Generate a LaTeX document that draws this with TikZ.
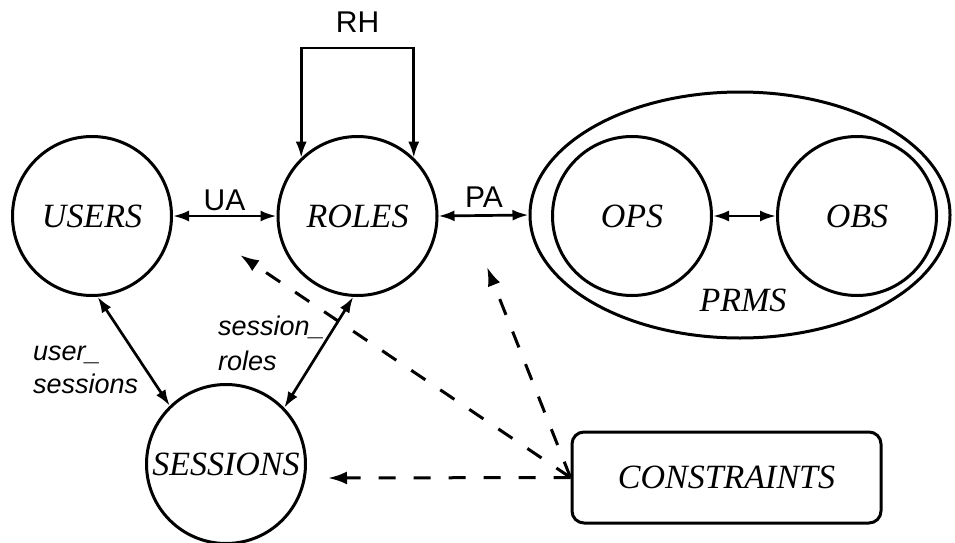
\documentclass[tikz,border=0pt]{standalone}
\usepackage{fontspec}
\setmainfont{Liberation Serif}
\setsansfont{Liberation Sans}
\usetikzlibrary{shapes.geometric,arrows.meta}

\tikzset{
  entity/.style={circle, draw, line width=3pt, inner sep=0pt, minimum size=159pt,
                 font=\fontsize{34}{40}\selectfont\itshape},
  setoval/.style={ellipse, draw, line width=3pt, inner sep=0pt,
                  minimum width=420pt, minimum height=246pt},
  consbox/.style={rectangle, rounded corners=12pt, draw, line width=3pt, inner sep=0pt,
                  minimum width=309pt, minimum height=91pt,
                  font=\fontsize{34}{40}\selectfont\itshape},
  rel/.style={font=\fontsize{30}{36}\selectfont\sffamily, inner sep=0pt},
  rellbl/.style={font=\fontsize{27}{33}\selectfont\sffamily\itshape, inner sep=0pt, anchor=base west},
  biarrow/.style={line width=2.7pt, {Latex[length=16pt,width=11pt]}-{Latex[length=16pt,width=11pt]}},
  dasharrow/.style={line width=3pt, dash pattern=on 17pt off 18pt, -{Latex[length=19pt,width=13pt]}},
}

\begin{document}
\begin{tikzpicture}[x=1pt, y=-1pt]
  \useasboundingbox (0,0) rectangle (955,543);

  % entities
  \node[entity] (users) at (92,216) {USERS};
  \node[entity] (roles) at (357.5,216) {ROLES};
  \node[entity] (sessions) at (226,464) {SESSIONS};
  \node[setoval] (prms) at (740,215) {};
  \node[entity] (ops) at (632,216) {OPS};
  \node[entity] (obs) at (857,216) {OBS};
  \node[font=\fontsize{34}{40}\selectfont\itshape, inner sep=0pt] (prmslabel) at (743,300) {PRMS};
  \node[consbox] (cons) at (726.5,477.5) {CONSTRAINTS};

  % assignments
  \draw[biarrow] (users.east) -- (roles.west);
  \node[rel] (ua) at (224.5,200) {UA};
  \draw[biarrow] (roles.east) -- (prms.west);
  \node[rel] (pa) at (484,197) {PA};
  \draw[biarrow] (ops.east) -- (obs.west);

  % role hierarchy loop
  \coordinate (rhtop) at (357.5,48);
  \draw[biarrow, line join=miter] (roles.134) |- (rhtop) -| (roles.46);
  \node[rel] (rh) at (357.5,22.5) {RH};

  % session links
  \draw[biarrow] (users.-86) -- (sessions.134);
  \node[rellbl] (us1) at (33,360) {user\_};
  \node[rellbl] (us2) at (33,393) {sessions};
  \draw[biarrow] (roles.-93) -- (sessions.44);
  \node[rellbl] (sr1) at (218,335) {session\_};
  \node[rellbl] (sr2) at (218,370) {roles};

  % constraints
  \coordinate (c1) at (240,255);
  \coordinate (c2) at (487,267);
  \coordinate (c3) at (328,478);
  \draw[dasharrow] (cons.west) -- (c1);
  \draw[dasharrow] (cons.west) -- (c2);
  \draw[dasharrow] (cons.west) -- (c3);
\end{tikzpicture}
\end{document}
